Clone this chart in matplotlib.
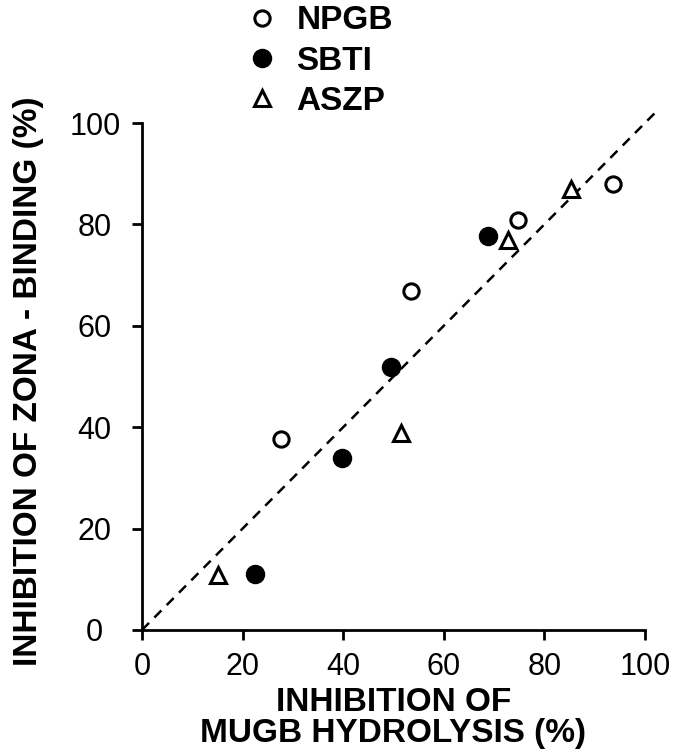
import matplotlib
matplotlib.use('Agg')
import matplotlib.pyplot as plt
import numpy as np

plt.rcParams['font.family'] = ['Liberation Sans', 'DejaVu Sans']

# valores
npgb_x = [27.6, 53.5, 74.7, 93.6]
npgb_y = [37.6, 66.9, 80.8, 88.0]
sbti_x = [22.5, 39.7, 49.6, 68.7]
sbti_y = [11.0, 33.9, 51.9, 77.7]
aszp_x = [15.1, 51.5, 72.8, 85.2]
aszp_y = [10.8, 38.9, 77.0, 86.9]
linea = [0, 102]
ticks = [0, 20, 40, 60, 80, 100]

fig = plt.figure(figsize=(6.82, 7.56), dpi=100)
ax = fig.add_axes([0.2082, 0.1667, 0.7375, 0.6706])

ax.plot(linea, linea, color='black', linestyle=(0, (4, 3)), linewidth=1.8, clip_on=False)
ax.plot(npgb_x, npgb_y, 'o', markersize=11, markerfacecolor='white',
        markeredgecolor='black', markeredgewidth=2.2, clip_on=False, label='NPGB')
ax.plot(sbti_x, sbti_y, 'o', markersize=13, color='black', clip_on=False, label='SBTI')
ax.plot(aszp_x, aszp_y, '^', markersize=12, markerfacecolor='white',
        markeredgecolor='black', markeredgewidth=2.2, clip_on=False, label='ASZP')

ax.set_xlim(0, 100)
ax.set_ylim(0, 100)
ax.set_xticks(ticks)
ax.set_yticks(ticks)
ax.set_xticklabels([str(t) for t in ticks], fontsize=22)
ax.set_yticklabels([str(t) for t in ticks], fontsize=22)
ax.tick_params(direction='out', length=7, width=2)
ax.tick_params(axis='x', pad=9)
ax.tick_params(axis='y', pad=27)
for lab in ax.get_yticklabels():
    lab.set_horizontalalignment('center')
for s in ['top', 'right']:
    ax.spines[s].set_visible(False)
for s in ['left', 'bottom']:
    ax.spines[s].set_linewidth(2)

ax.set_xlabel('INHIBITION OF\nMUGB HYDROLYSIS (%)', fontsize=24, fontweight='bold',
              linespacing=1.0)
ax.xaxis.set_label_coords(0.5, -0.113)
ax.set_ylabel('INHIBITION OF ZONA - BINDING (%)', fontsize=24, fontweight='bold')
ax.yaxis.set_label_coords(-0.195, 0.49)

fig.legend(loc='upper left', bbox_to_anchor=(0.359, 0.993), frameon=False,
           prop={'size': 24, 'weight': 'bold'}, handletextpad=0.55,
           labelspacing=0.28, handlelength=1.0, borderaxespad=0, borderpad=0)

fig.savefig('out.png', dpi=100)
